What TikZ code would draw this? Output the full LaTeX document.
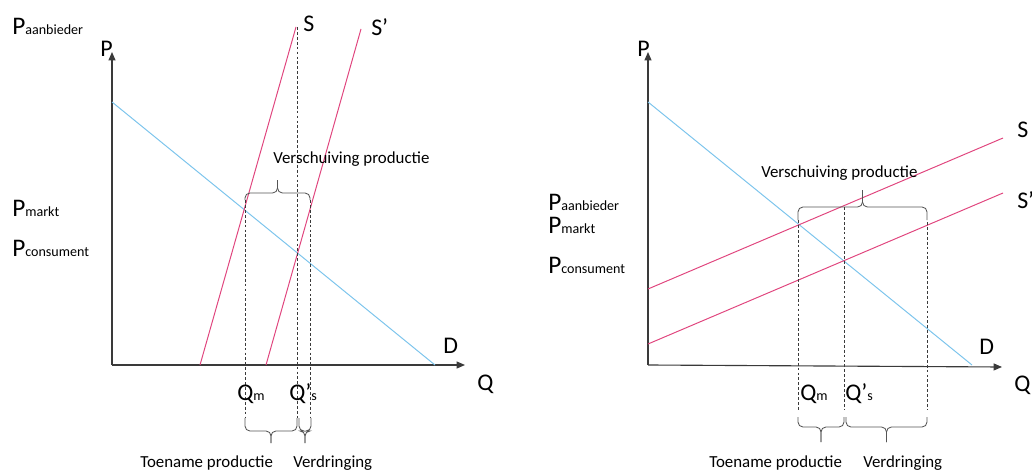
\documentclass[tikz,border=0pt]{standalone}
\usepackage{fontspec}
\setmainfont{Carlito}
\usetikzlibrary{arrows.meta}
\definecolor{supply}{HTML}{E0457E}
\definecolor{demand}{HTML}{7CC4EC}
\definecolor{axisc}{HTML}{3A3A3A}
\definecolor{brc}{HTML}{555555}
\newcommand{\prijs}[1]{{\fontsize{18}{18}\selectfont P}{\fontsize{10}{10}\selectfont #1}}
\newcommand{\hoev}[2]{{\fontsize{17}{17}\selectfont Q#1}{\fontsize{10}{10}\selectfont #2}}
\tikzset{
  axis/.style={draw=axisc, line width=0.8pt, -{Triangle[length=6pt,width=5pt]}},
  vraag/.style={draw=demand, line width=0.7pt},
  aanbod/.style={draw=supply, line width=0.7pt},
  hulp/.style={draw=axisc, line width=0.5pt, dash pattern=on 2pt off 1.5pt},
  accolade/.style={draw=brc, line width=0.6pt, rounded corners=3.5pt},
  lbl/.style={anchor=base west, inner sep=0pt, font=\fontsize{12}{12}\selectfont},
  groot/.style={anchor=base west, inner sep=0pt, font=\fontsize{17}{17}\selectfont},
  prijslbl/.style={anchor=base west, inner sep=0pt}
}

\begin{document}
\begin{tikzpicture}[x=0.025cm,y=-0.025cm]
  \useasboundingbox (0,0) rectangle (1032,473);

  % linker grafiek: steile aanbodcurven
  \coordinate (o1) at (112,365);
  \draw[axis] (o1) -- (112,52);
  \draw[axis] (o1) -- (465,365);
  \draw[vraag] (112,102) -- (435,365);
  \draw[aanbod] (200,365) -- (296,27);
  \draw[aanbod] (266,365) -- (361,29);
  \foreach \x/\t in {245/200, 297/27, 310/200} { \draw[hulp] (\x,\t) -- (\x,418); }

  % rechter grafiek: vlakke aanbodcurven
  \coordinate (o2) at (648,365);
  \draw[axis] (o2) -- (648,52);
  \draw[axis] (o2) -- (1002,367);
  \draw[vraag] (648,102) -- (972,365);
  \draw[aanbod] (648,289) -- (1003,138);
  \draw[aanbod] (648,344) -- (1003,193);
  \foreach \x/\t in {798/220, 844/207, 927/222} { \draw[hulp] (\x,\t) -- (\x,410); }

  % accolades: x links / x rechts / punten / rug / top
  \foreach \a/\b/\t/\m/\p in {245/310/200/193/180, 245/297/418/431/443, 299/311/418/431/443,
                              798/927/220/207/190, 798/844/417/427/442, 846/927/417/427/442} {
    \draw[accolade] (\a,\t) -- (\a,\m) -- ({(\a+\b)/2},\m) -- ({(\a+\b)/2},\p);
    \draw[accolade] ({(\a+\b)/2},\p) -- ({(\a+\b)/2},\m) -- (\b,\m) -- (\b,\t);
  }

  \node[groot] (p1) at (100,57) {P};
  \node[groot] (q1) at (477,390) {Q};
  \node[groot] (s1) at (303,32) {S};
  \node[groot] (s1b) at (371,36) {S’};
  \node[groot] (d1) at (443,353) {D};
  \node[prijslbl] (pa1) at (12,35) {\prijs{aanbieder}};
  \node[prijslbl] (pm1) at (12,216) {\prijs{markt}};
  \node[prijslbl] (pc1) at (12,256) {\prijs{consument}};
  \node[prijslbl] (qm1) at (237,400) {\hoev{}{m}};
  \node[prijslbl] (qs1) at (289,400) {\hoev{’}{s}};
  \node[lbl] (vp1) at (273,163) {Verschuiving productie};
  \node[lbl] (tp1) at (140,467) {Toename productie};
  \node[lbl] (vd1) at (293,467) {Verdringing};

  \node[groot] (p2) at (637,57) {P};
  \node[groot] (q2) at (1014,391) {Q};
  \node[groot] (s2) at (1017,137) {S};
  \node[groot] (s2b) at (1017,208) {S’};
  \node[groot] (d2) at (979,354) {D};
  \node[prijslbl] (pa2) at (548,210) {\prijs{aanbieder}};
  \node[prijslbl] (pm2) at (548,233) {\prijs{markt}};
  \node[prijslbl] (pc2) at (548,273) {\prijs{consument}};
  \node[prijslbl] (qm2) at (800,400) {\hoev{}{m}};
  \node[prijslbl] (qs2) at (845,400) {\hoev{’}{s}};
  \node[lbl] (vp2) at (761,177) {Verschuiving productie};
  \node[lbl] (tp2) at (709,467) {Toename productie};
  \node[lbl] (vd2) at (863,467) {Verdringing};
\end{tikzpicture}
\end{document}
